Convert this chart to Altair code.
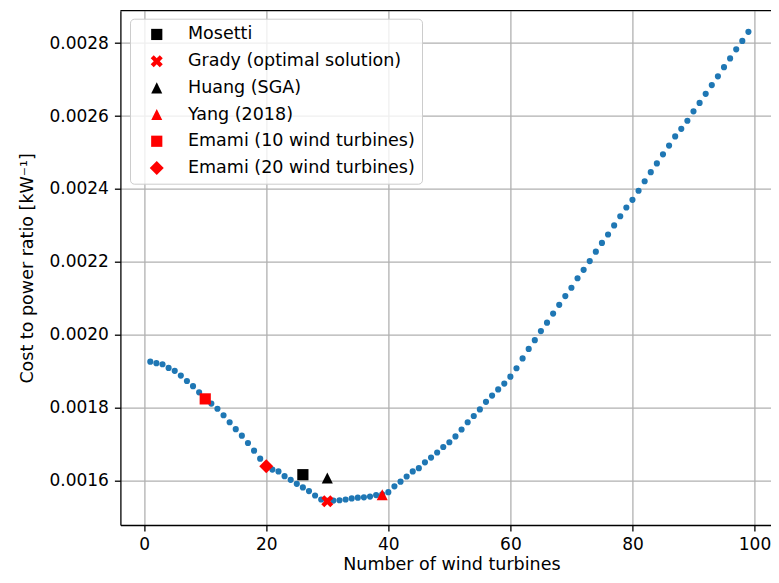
import altair as alt
import pandas as pd

# Blue series: cost to power ratio for 1..99 wind turbines
turbines = list(range(1, 100))
cost_ratio = [
    0.001926, 0.001922, 0.001919, 0.001909, 0.001901, 0.001888, 0.001873, 0.001859, 0.001842, 0.001825,
    0.001811, 0.001797, 0.001779, 0.001760, 0.001741, 0.001723, 0.001703, 0.001682, 0.001660, 0.001640,
    0.001630, 0.001625, 0.001612, 0.001602, 0.001591, 0.001581, 0.001571, 0.001559, 0.001548, 0.001544,
    0.001545, 0.001546, 0.001548, 0.001551, 0.001553, 0.001554, 0.001556, 0.001560, 0.001562, 0.001568,
    0.001584, 0.001597, 0.001611, 0.001625, 0.001634, 0.001650, 0.001663, 0.001677, 0.001692, 0.001705,
    0.001721, 0.001740, 0.001760, 0.001777, 0.001795, 0.001816, 0.001833, 0.001850, 0.001866, 0.001885,
    0.001908, 0.001935, 0.001961, 0.001985, 0.002010, 0.002033, 0.002058, 0.002082, 0.002106, 0.002129,
    0.002155, 0.002178, 0.002202, 0.002228, 0.002252, 0.002275, 0.002300, 0.002325, 0.002349, 0.002370,
    0.002395, 0.002421, 0.002446, 0.002470, 0.002495, 0.002519, 0.002544, 0.002565, 0.002587, 0.002613,
    0.002636, 0.002661, 0.002685, 0.002709, 0.002734, 0.002758, 0.002783, 0.002806, 0.002831,
]

# Reference solutions
ref_labels = [
    "Mosetti",
    "Grady (optimal solution)",
    "Huang (SGA)",
    "Yang (2018)",
    "Emami (10 wind turbines)",
    "Emami (20 wind turbines)",
]
ref_turbines = [26, 30, 30, 39, 10, 20]
ref_cost = [0.001616, 0.001543, 0.001607, 0.001561, 0.001824, 0.001639]
ref_colors = ["black", "red", "black", "red", "red", "red"]

SQUARE = "M-0.8,-0.8H0.8V0.8H-0.8Z"
XMARK = ("M-0.43,-0.86L0,-0.43L0.43,-0.86L0.86,-0.43L0.43,0L0.86,0.43L0.43,0.86"
         "L0,0.43L-0.43,0.86L-0.86,0.43L-0.43,0L-0.86,-0.43Z")
TRIANGLE = "M0,-0.79L0.79,0.79L-0.79,0.79Z"
DIAMOND = "M0,-1L1,0L0,1L-1,0Z"
ref_shapes = [SQUARE, XMARK, TRIANGLE, TRIANGLE, SQUARE, DIAMOND]

x_ticks = [0, 20, 40, 60, 80, 100]
y_ticks = [0.0016, 0.0018, 0.0020, 0.0022, 0.0024, 0.0026, 0.0028]

FONT = "DejaVu Sans"
TICK_FS = 17
TEXT_FS = 17.5
PAD_L, PAD_T, PAD_R, PAD_B = 112.4, 2.7, 0, 49
W, H = 650.6, 514.3

curve_df = pd.DataFrame({"turbines": turbines, "cost": cost_ratio})
ref_df = pd.DataFrame({"label": ref_labels, "turbines": ref_turbines, "cost": ref_cost})

x_scale = alt.Scale(domain=[-3.9, 102.7], nice=False, zero=False)
y_scale = alt.Scale(domain=[0.001478, 0.002889], nice=False, zero=False)

x_axis = alt.Axis(
    values=x_ticks, format="d", title="Number of wind turbines",
    titleX=331, titleY=44.5, titleBaseline="alphabetic", labelPadding=5,
)
y_axis = alt.Axis(
    values=y_ticks, format=".4f", title="Cost to power ratio [kW\u207b\u00b9]",
    titleX=-88, titleY=H / 2, titleBaseline="alphabetic",
)

blue = alt.Chart(curve_df).mark_circle(size=38, color="#1f77b4", opacity=1).encode(
    x=alt.X("turbines:Q", scale=x_scale, axis=x_axis),
    y=alt.Y("cost:Q", scale=y_scale, axis=y_axis),
)

legend = alt.Legend(
    title=None, orient="none", legendX=9.6, legendY=8,
    padding=7, rowPadding=7.7, symbolOffset=11, labelOffset=22.5,
    symbolSize=196, symbolStrokeWidth=0,
    fillColor="rgba(255,255,255,0.8)", strokeColor="#cccccc", cornerRadius=4,
    labelFont=FONT, labelFontSize=TEXT_FS, labelColor="black", labelLimit=500,
)

refs = alt.Chart(ref_df).mark_point(filled=True, size=196, opacity=1, strokeWidth=0).encode(
    x=alt.X("turbines:Q", scale=x_scale, axis=x_axis),
    y=alt.Y("cost:Q", scale=y_scale, axis=y_axis),
    color=alt.Color("label:N", scale=alt.Scale(domain=ref_labels, range=ref_colors), legend=legend),
    shape=alt.Shape("label:N", scale=alt.Scale(domain=ref_labels, range=ref_shapes), legend=legend),
)

top_spine = alt.Chart().mark_rule(color="black", strokeWidth=1.3).encode(
    x=alt.value(0), x2=alt.value("width"), y=alt.value(0)
)

chart = alt.layer(blue, refs, top_spine).properties(
    width=W, height=H,
    padding={"left": PAD_L, "top": PAD_T, "right": PAD_R, "bottom": PAD_B},
    autosize=alt.AutoSizeParams(type="none"),
).configure_view(strokeWidth=0).configure_axis(
    labelFont=FONT, labelFontSize=TICK_FS, labelColor="black",
    titleFont=FONT, titleFontSize=TEXT_FS, titleFontWeight="normal", titleColor="black",
    tickColor="black", tickSize=6, tickWidth=1.3, labelPadding=6,
    domainColor="black", domainWidth=1.3,
    grid=True, gridColor="#b0b0b0", gridWidth=1.3,
)

chart.save("out.html", embed_options={"renderer": "svg", "actions": False})
